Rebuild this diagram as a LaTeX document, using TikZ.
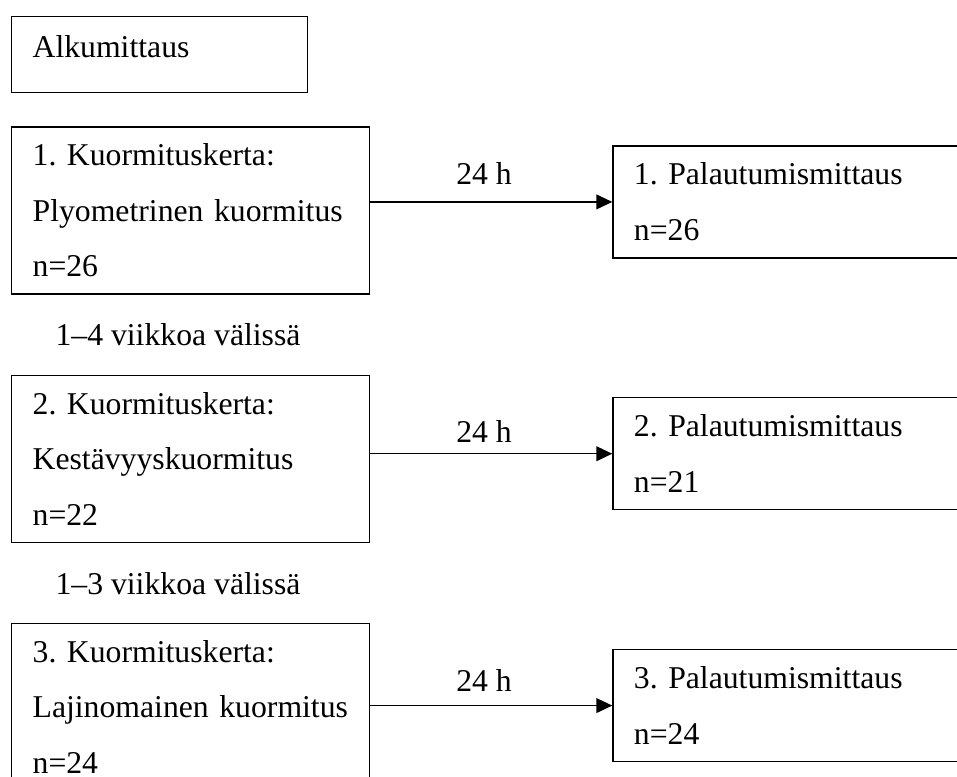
\documentclass[tikz,border=0pt]{standalone}
\usepackage{fontspec}
\setmainfont{Liberation Serif}
\usetikzlibrary{positioning,arrows.meta}
\frenchspacing

\begin{document}
\begin{tikzpicture}[
  x=0.35pt, y=-0.35pt,
  >={Triangle[length=5.6pt,width=5.2pt]},
  every node/.style={font=\fontsize{11.1}{19.4}\selectfont},
  mittaus/.style={draw, line width=0.45pt, align=left, inner xsep=7.35pt, inner ysep=0pt, text height=13.65pt},
  kuorma/.style={mittaus, text width=110.6pt, text depth=44.8pt},
  palaute/.style={mittaus, text width=112pt, text depth=25.55pt},
  aika/.style={anchor=base, inner sep=0pt},
  vali/.style={anchor=base west, inner sep=0pt}
]
\useasboundingbox (0,0) rectangle (957,776);
\clip (0,0) rectangle (957,776);

% mittaukset vasemmalla
\node[mittaus, text width=88.9pt, text height=14.35pt, text depth=12.25pt, anchor=north west] (alku) at (11,16) {Alkumittaus};
\node[kuorma, below=11.55pt of alku.south west, anchor=north west] (k1) {1. Kuormituskerta:\\Plyometrinen kuormitus\\n=26};
\node[vali] (vali1) at ([shift={(44,51)}]k1.south west) {1–4 viikkoa välissä};
\node[kuorma, below=28pt of k1.south west, anchor=north west] (k2) {2. Kuormituskerta:\\Kestävyyskuormitus\\n=22};
\node[vali] (vali2) at ([shift={(44,52)}]k2.south west) {1–3 viikkoa välissä};
\node[kuorma, below=28pt of k2.south west, anchor=north west] (k3) {3. Kuormituskerta:\\Lajinomainen kuormitus\\n=24};

% palautumismittaukset oikealla
\node[palaute, right=84.7pt of k1, yshift=2.98pt] (p1) {1. Palautumismittaus\\n=26};
\node[palaute, right=84.7pt of k2, yshift=1.75pt] (p2) {2. Palautumismittaus\\n=21};
\node[palaute, right=84.7pt of k3, yshift=0.5pt] (p3) {3. Palautumismittaus\\n=24};

\draw[->, line width=0.5pt] (k1.east |- p1.west) -- node[aika, pos=0.47, yshift=5.95pt] (h1) {24 h} (p1.west);
\draw[->, line width=0.5pt] (k2.east |- p2.west) -- node[aika, pos=0.47, yshift=3.85pt] (h2) {24 h} (p2.west);
\draw[->, line width=0.5pt] (k3.east |- p3.west) -- node[aika, pos=0.47, yshift=4.9pt] (h3) {24 h} (p3.west);
\end{tikzpicture}
\end{document}
